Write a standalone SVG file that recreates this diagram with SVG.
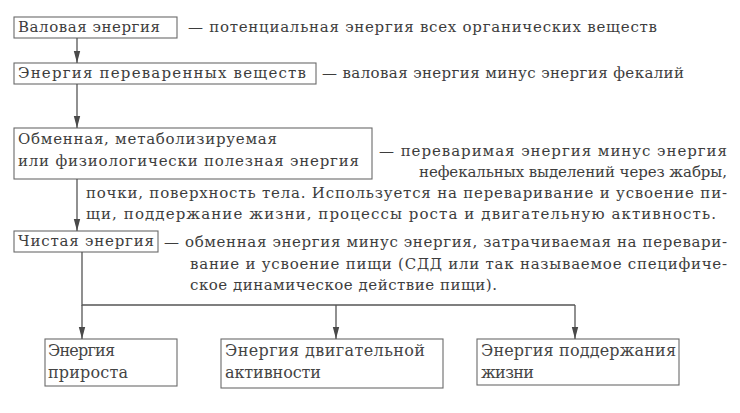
<svg xmlns="http://www.w3.org/2000/svg" width="740" height="413" viewBox="0 0 740 413">
<defs>
<marker id="ah" viewBox="0 0 12 8" refX="12" refY="4" markerWidth="12" markerHeight="8" markerUnits="userSpaceOnUse" orient="auto">
<path d="M0,0.8 L12,4 L0,7.2 Z" fill="#4a4a4a"/>
</marker>
<style>
rect.b{fill:none;stroke:#6a6a6a;stroke-width:1.1}
text{font-family:"DejaVu Serif",serif;font-size:15px;fill:#3d3d3d}
text.s{font-size:16px;fill:#444}
.c line,.c path{stroke:#555;stroke-width:1.3;fill:none}
</style>
</defs>
<rect width="740" height="413" fill="#fff"/>

<g id="n1">
<rect class="b" x="14" y="17" width="163" height="21"/>
<text x="18" y="32" textLength="142">Валовая энергия</text>
<text x="188" y="32" textLength="469">— потенциальная энергия всех органических веществ</text>
</g>

<g id="n2">
<rect class="b" x="14" y="63" width="302" height="21"/>
<text x="18" y="78" textLength="288">Энергия переваренных веществ</text>
<text x="322" y="78" textLength="362">— валовая энергия минус энергия фекалий</text>
</g>

<g id="n3">
<rect class="b" x="14" y="128" width="358" height="51"/>
<text x="18" y="144" textLength="259">Обменная, метаболизируемая</text>
<text x="18" y="166" textLength="341">или физиологически полезная энергия</text>
<text x="379" y="156" textLength="348">— переваримая энергия минус энергия</text>
<text x="419" y="177" textLength="308">нефекальных выделений через жабры,</text>
<text x="86" y="198" textLength="641">почки, поверхность тела. Используется на переваривание и усвоение пи-</text>
<text x="86" y="219" textLength="630">щи, поддержание жизни, процессы роста и двигательную активность.</text>
</g>

<g id="n4">
<rect class="b" x="14" y="231" width="144" height="21"/>
<text x="18" y="246" textLength="136">Чистая энергия</text>
<text x="164" y="247" textLength="563">— обменная энергия минус энергия, затрачиваемая  на перевари-</text>
<text x="190" y="269" textLength="537">вание и усвоение пищи (СДД или так называемое специфиче-</text>
<text x="190" y="290" textLength="307">ское динамическое действие пищи).</text>
</g>

<g id="n5">
<rect class="b" x="45" y="339" width="132" height="47"/>
<text class="s" x="48" y="356" textLength="67">Энергия</text>
<text class="s" x="48" y="378" textLength="80">прироста</text>
</g>

<g id="n6">
<rect class="b" x="221" y="339" width="222" height="49"/>
<text class="s" x="225" y="356" textLength="200">Энергия двигательной</text>
<text class="s" x="225" y="378" textLength="96">активности</text>
</g>

<g id="n7">
<rect class="b" x="477" y="339" width="202" height="46"/>
<text class="s" x="481" y="356" textLength="195">Энергия поддержания</text>
<text class="s" x="481" y="378" textLength="53">жизни</text>
</g>

<g id="connectors" class="c">
<line x1="77" y1="38" x2="77" y2="63" marker-end="url(#ah)"/>
<line x1="77" y1="84" x2="77" y2="128" marker-end="url(#ah)"/>
<line x1="77" y1="179" x2="77" y2="231" marker-end="url(#ah)"/>
<path d="M82,252 V305 H575"/>
<line x1="82" y1="305" x2="82" y2="339" marker-end="url(#ah)"/>
<line x1="336" y1="305" x2="336" y2="339" marker-end="url(#ah)"/>
<line x1="575" y1="305" x2="575" y2="339" marker-end="url(#ah)"/>
</g>
</svg>
